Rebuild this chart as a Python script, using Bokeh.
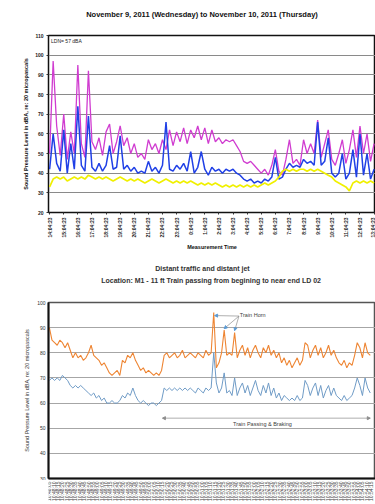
import numpy as np
from bokeh.plotting import figure
from bokeh.layouts import column
from bokeh.models import Range1d, FixedTicker, Label, Arrow, NormalHead
from bokeh.core.properties import value
from bokeh.embed import file_html
from bokeh.resources import INLINE

FONT = "Liberation Sans"

# ---------------- top chart data (15-minute samples from 14:04:23) ----------------
top_lmax = [50, 97, 64, 49, 70, 47, 61, 50,
            95, 55, 48, 92, 56, 52, 58, 49,
            61, 65, 50, 56, 64, 54, 58, 50,
            55, 48, 50, 47, 57, 52, 55, 50,
            57, 52, 62, 54, 61, 56, 63, 55,
            62, 58, 64, 57, 63, 55, 62, 56,
            58, 55, 57, 56, 57, 54, 51, 46,
            45, 46, 44, 42, 40, 42, 39, 44,
            52, 41, 39, 47, 57, 45, 47, 44,
            57, 50, 55, 50, 67, 48, 55, 62,
            47, 44, 50, 57, 45, 52, 62, 48,
            64, 50, 60, 46, 55]
top_leq = [42, 60, 45, 41, 62, 40, 55, 42,
           74, 44, 41, 69, 43, 41, 45, 41,
           44, 54, 42, 43, 59, 42, 44, 41,
           43, 40, 41, 40, 46, 41, 43, 40,
           44, 66, 42, 41, 44, 42, 45, 41,
           51, 40, 43, 51, 42, 39, 43, 41,
           42, 40, 42, 41, 42, 40, 39, 37,
           36, 37, 35, 36, 35, 37, 36, 38,
           48, 37, 38, 42, 45, 43, 44, 43,
           47, 45, 46, 44, 66, 44, 46, 58,
           40, 38, 40, 50, 37, 40, 52, 38,
           60, 39, 50, 37, 42]
top_lmin = [33, 37, 38, 37, 38, 36, 37, 38,
            37, 38, 37, 39, 38, 37, 38, 37,
            38, 37, 36, 37, 38, 37, 36, 37,
            36, 37, 36, 35, 36, 37, 36, 35,
            36, 37, 36, 35, 36, 35, 36, 35,
            36, 35, 34, 35, 34, 35, 34, 35,
            34, 33, 34, 33, 34, 33, 34, 33,
            34, 33, 34, 33, 34, 35, 34, 35,
            36, 38, 41, 42, 41, 42, 41, 42,
            42, 41, 42, 41, 42, 41, 40, 39,
            38, 36, 35, 34, 33, 31, 35, 36,
            35, 36, 35, 36, 35]
top_tick_labels = ["14:04:23", "15:04:23", "16:04:23", "17:04:23", "18:04:23", "19:04:23",
                   "20:04:23", "21:04:23", "22:04:23", "23:04:23", "0:04:23", "1:04:23",
                   "2:04:23", "3:04:23", "4:04:23", "5:04:23", "6:04:23", "7:04:23",
                   "8:04:23", "9:04:23", "10:04:23", "11:04:23", "12:04:23", "13:04:23"]
top_step_hours = 0.25
top_title = "November 9, 2011 (Wednesday) to November 10, 2011 (Thursday)"

# ---------------- bottom chart data (3-second samples from 10:48:05) ----------------
bot_lmax = [90, 85, 84, 83, 85, 84, 82, 84, 81, 78,
            80, 78, 79, 77, 78, 80, 83, 79, 78, 77,
            75, 76, 74, 72, 71, 72, 73, 71, 77, 76,
            79, 78, 80, 77, 75, 73, 74, 72, 73, 72,
            71, 72, 71, 73, 79, 80, 78, 79, 80, 78,
            79, 81, 78, 79, 80, 79, 78, 80, 79, 78,
            81, 79, 80, 96, 74, 76, 80, 89, 79, 80,
            79, 88, 78, 81, 83, 79, 82, 78, 81, 83,
            80, 78, 82, 80, 83, 79, 81, 78, 80, 76,
            78, 75, 77, 74, 76, 78, 75, 77, 84, 83,
            78, 81, 83, 79, 82, 78, 80, 83, 79, 81,
            78, 76, 75, 77, 74, 76, 75, 79, 84, 82,
            78, 84, 80, 79]
bot_leq = [69, 70, 69, 70, 69, 71, 70, 69, 67, 66,
           67, 66, 67, 66, 65, 64, 63, 64, 62, 63,
           61, 62, 60, 60, 61, 60, 60, 61, 63, 62,
           64, 63, 66, 63, 61, 60, 61, 60, 59, 60,
           60, 59, 60, 61, 66, 65, 66, 65, 66, 65,
           66, 65, 66, 65, 66, 65, 64, 66, 65, 64,
           66, 65, 66, 80, 68, 64, 66, 72, 64, 65,
           63, 70, 63, 66, 68, 64, 67, 63, 66, 69,
           65, 63, 67, 64, 68, 63, 66, 62, 64, 61,
           63, 62, 61, 62, 61, 63, 61, 62, 69, 67,
           63, 66, 68, 63, 67, 62, 65, 67, 63, 66,
           63, 62, 61, 63, 61, 62, 63, 66, 70, 67,
           63, 70, 66, 64]
bot_tick_labels = [
    "10:48:05", "10:48:10", "10:48:15", "10:48:20", "10:48:25", "10:48:30", "10:48:35",
    "10:48:40", "10:48:45", "10:48:50", "10:48:55",
    "10:49:00", "10:49:05", "10:49:10", "10:49:15", "10:49:20", "10:49:25", "10:49:30",
    "10:49:35", "10:49:40", "10:49:45", "10:49:50", "10:49:55",
    "10:50:00", "10:50:05", "10:50:10", "10:50:15", "10:50:20", "10:50:25", "10:50:30",
    "10:50:35", "10:50:40", "10:50:45", "10:50:50", "10:50:55",
    "10:51:00", "10:51:05", "10:51:10", "10:51:15", "10:51:20", "10:51:25", "10:51:30",
    "10:51:35", "10:51:40", "10:51:45", "10:51:50", "10:51:55",
    "10:52:00", "10:52:05", "10:52:10", "10:52:15", "10:52:20", "10:52:25", "10:52:30",
    "10:52:35", "10:52:40", "10:52:45", "10:52:50", "10:52:55",
    "10:53:00", "10:53:05", "10:53:10", "10:53:15", "10:53:20", "10:53:25", "10:53:30",
    "10:53:35", "10:53:40", "10:53:45", "10:53:50", "10:53:55",
    "10:54:00", "10:54:05", "10:54:10", "10:54:15"]
bot_step_seconds = 3
bot_label_step_seconds = 5
bot_title_1 = "Distant traffic and distant jet"
bot_title_2 = "Location: M1 - 11 ft Train passing from begining to near end LD 02"

top_xr = Range1d(-0.08, 23.1)
bot_xr = Range1d(-1, 375)


def strip(height, x_range, left):
    """A bare figure used only to hold text outside the charts."""
    s = figure(width=375, height=height, output_backend="svg", toolbar_location=None,
               x_range=x_range, y_range=Range1d(0, height),
               x_axis_location=None, y_axis_location=None,
               min_border_left=left, min_border_right=0, min_border_top=0, min_border_bottom=0)
    s.outline_line_color = None
    s.xgrid.visible = False
    s.ygrid.visible = False
    s.title.visible = False
    return s


# ================= TOP TITLE STRIP =================
t1 = strip(28, top_xr, 48)
t1.add_layout(Label(x=10.8, y=14, text=top_title, text_font=FONT, text_font_size="7.5px",
                    text_font_style="bold", text_align="center", text_baseline="middle",
                    text_color="#111111"))

# ================= TOP FIGURE =================
top_x = np.arange(len(top_lmax)) * top_step_hours
p1 = figure(width=375, height=224, output_backend="svg", toolbar_location=None,
            x_range=top_xr, y_range=Range1d(20, 110),
            min_border_left=48, min_border_right=0, min_border_top=7, min_border_bottom=10)
p1.title.visible = False

p1.line(top_x, top_lmax, line_color="#D03CD0", line_width=1.3)
p1.line(top_x, top_leq, line_color="#2040E6", line_width=1.5)
p1.line(top_x, top_lmin, line_color="#F0F000", line_width=1.7)

p1.xaxis.ticker = FixedTicker(ticks=list(range(len(top_tick_labels))))
p1.xaxis.major_label_overrides = {i: s for i, s in enumerate(top_tick_labels)}
p1.xaxis.major_label_orientation = np.pi / 2
p1.xaxis.axis_label = "Measurement Time"
p1.yaxis.ticker = FixedTicker(ticks=list(range(20, 111, 10)))
p1.yaxis.axis_label = "Sound Pressure Level in dBA, re: 20 micropascals"
for ax in (p1.xaxis[0], p1.yaxis[0]):
    ax.major_label_text_font = FONT
    ax.major_label_text_font_size = "5px"
    ax.major_label_text_font_style = "bold"
    ax.major_label_text_color = "#222222"
    ax.axis_label_text_font = FONT
    ax.axis_label_text_font_size = "5.5px"
    ax.axis_label_text_font_style = "bold"
    ax.axis_label_text_color = "#111111"
    ax.axis_label_standoff = 3
    ax.major_label_standoff = 3
    ax.minor_tick_line_color = None
    ax.major_tick_out = 2
    ax.major_tick_in = 0
    ax.axis_line_color = "#111111"
    ax.major_tick_line_color = "#333333"
p1.xgrid.grid_line_color = None
p1.ygrid.grid_line_color = "#8A8A8A"
p1.ygrid.grid_line_width = 1
p1.outline_line_color = "#111111"
p1.outline_line_width = 1.5
p1.add_layout(Label(x=0.1, y=107.3, text="LDN= 57 dBA", text_font=FONT, text_font_size="5px",
                    text_baseline="middle", text_color="#222222"))

# ================= BOTTOM TITLE STRIP =================
t2 = strip(38, bot_xr, 44)
t2.add_layout(Label(x=176, y=22, text=bot_title_1, text_font=FONT, text_font_size="7px",
                    text_font_style="bold", text_align="center", text_baseline="middle",
                    text_color="#333333"))
t2.add_layout(Label(x=186, y=10, text=bot_title_2, text_font=FONT, text_font_size="7px",
                    text_font_style="bold", text_align="center", text_baseline="middle",
                    text_color="#333333"))

# ================= BOTTOM FIGURE =================
bot_x = np.arange(len(bot_lmax)) * bot_step_seconds
bot_tick_pos = [i * bot_label_step_seconds for i in range(len(bot_tick_labels))]
p2 = figure(width=375, height=190, output_backend="svg", toolbar_location=None,
            x_range=bot_xr, y_range=Range1d(30, 100),
            min_border_left=44, min_border_right=0, min_border_top=12, min_border_bottom=2)
p2.title.visible = False

p2.line(bot_x, bot_lmax, line_color="#EE8533", line_width=1.1)
p2.line(bot_x, bot_leq, line_color="#6F9BC6", line_width=1.0)

p2.xaxis.ticker = FixedTicker(ticks=[])
p2.yaxis.ticker = FixedTicker(ticks=list(range(30, 101, 10)))
p2.yaxis.axis_label = "Sound Pressure Level in dBA, re: 20 micropascals"
p2.yaxis.major_label_text_font = FONT
p2.yaxis.major_label_text_font_size = "5px"
p2.yaxis.major_label_text_color = "#333333"
p2.yaxis.axis_label_text_font = FONT
p2.yaxis.axis_label_text_font_size = "5.5px"
p2.yaxis.axis_label_text_font_style = "normal"
p2.yaxis.axis_label_text_color = "#333333"
p2.yaxis.axis_label_standoff = 4
p2.yaxis.major_label_standoff = 3
for ax in (p2.xaxis[0], p2.yaxis[0]):
    ax.minor_tick_line_color = None
    ax.major_tick_out = 0
    ax.major_tick_in = 0
    ax.axis_line_color = "#111111"
    ax.axis_line_width = 2
p2.xgrid.grid_line_color = None
p2.ygrid.grid_line_color = "#A6A6A6"
p2.ygrid.grid_line_width = 1
p2.outline_line_color = "#555555"
p2.outline_line_width = 1.5

horn_x = [190, 201, 213]
horn_y = [94.8, 89.6, 88.8]
for hx, hy in zip(horn_x, horn_y):
    p2.add_layout(Arrow(x_start=218, y_start=94.6, x_end=hx, y_end=hy,
                        line_color="#8C8C8C", line_width=0.7,
                        end=NormalHead(size=3, fill_color="#5B9BD5", line_color="#5B9BD5")))
p2.add_layout(Label(x=219, y=95.2, text="Train Horn", text_font=FONT, text_font_size="5.5px",
                    text_baseline="middle", text_color="#404040"))
p2.add_layout(Arrow(x_start=130, y_start=54, x_end=369, y_end=54,
                    line_color="#8C8C8C", line_width=0.7,
                    start=NormalHead(size=3, fill_color="#8C8C8C", line_color="#8C8C8C"),
                    end=NormalHead(size=3, fill_color="#8C8C8C", line_color="#8C8C8C")))
p2.add_layout(Label(x=245, y=51.6, text="Train Passing & Braking", text_font=FONT,
                    text_font_size="5.5px", text_align="center", text_baseline="middle",
                    text_color="#404040"))

# ================= BOTTOM TICK-LABEL STRIP =================
t3 = strip(24, bot_xr, 44)
t3.text(x=bot_tick_pos, y=[23] * len(bot_tick_pos), text=bot_tick_labels, angle=np.pi / 2,
        text_font=value(FONT), text_font_size=value("5px"), text_align="right",
        text_baseline="middle", text_color="#444444")

layout = column(t1, p1, t2, p2, t3, spacing=0)
open("out.html", "w").write(file_html(layout, INLINE))
